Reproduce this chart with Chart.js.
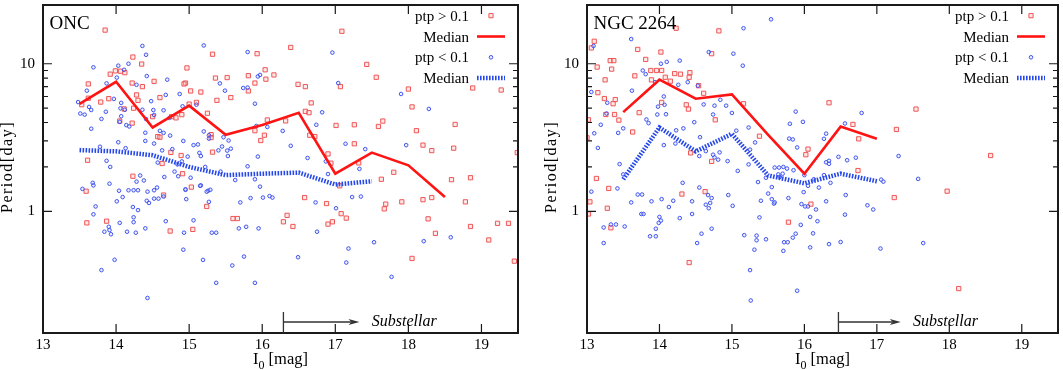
<!DOCTYPE html>
<html><head><meta charset="utf-8">
<script src="https://cdn.jsdelivr.net/npm/chart.js@4/dist/chart.umd.min.js"></script>
<style>
html,body{margin:0;padding:0;background:#fff;}
#wrap{position:relative;width:1063px;height:370px;overflow:hidden;background:#fff;}
canvas{position:absolute;top:0;}
#c1{left:0}
#c2{left:530px}
</style></head><body>
<div id="wrap"><canvas id="c1" width="530" height="370"></canvas><canvas id="c2" width="533" height="370"></canvas></div>
<script>
// ---- axis / tick definitions ----
const xTickValues = [13,14,15,16,17,18,19];
const yTickLabels = [1,10];
const yMinorTicks = [2,3,4,5,6,7,8,9];
const xMin = 13, xMax = 19.5, yMin = 0.15, yMax = 25;
const legendLabels = ['ptp > 0.1','Median','ptp < 0.1','Median'];
const xTitle = ['I','0',' [mag]'];
const yTitle = 'Period[day]';
const substellarText = 'Substellar';

// ---- ONC : ptp > 0.1 ----
const oncRedMag = [
13.85,14.23,15.32,15.93,14.35,14.06,14.12,13.99,13.92,14.97,
14.52,14.22,14.36,13.62,14.95,14.93,15.36,15.52,15.81,16.04,
16.05,15.9,15.81,15.16,15.02,13.62,13.79,13.9,14.28,14.3,
14.6,15.38,15.57,13.53,14.11,14.24,15.0,15.1,15.25,14.05,
14.22,14.5,14.76,14.82,14.9,14.57,14.6,15.3,15.3,15.9,
15.98,16.03,13.61,14.63,14.75,14.89,15.32,14.91,14.23,15.03,
13.59,
13.6,13.87,14.74,14.65,15.24,15.05,15.6,15.66,
17.09,16.39,17.43,17.56,17.07,16.16,16.49,16.59,18.0,18.88,
19.27,16.67,18.05,16.59,16.64,17.01,17.26,17.59,17.65,16.07,
16.32,18.11,18.64,18.2,18.32,18.62,19.49,16.65,16.72,17.26,
16.9,16.94,17.32,17.8,17.63,18.59,18.85,17.06,
16.58,16.88,16.34,16.29,16.42,17.08,17.15,16.9,16.96,17.69,
17.67,17.91,18.2,18.32,18.27,18.37,18.05,18.78,18.85,19.22,
19.37,19.1,19.45];
const oncRedPer = [
16.9,11.1,11.6,11.7,9.95,8.9,8.7,8.95,8.5,9.37,
7.6,7.4,7.0,7.3,7.4,7.3,8.0,8.06,8.3,9.1,
7.86,7.4,6.54,6.43,6.54,5.84,5.5,5.8,6.15,5.65,
5.9,5.65,5.9,5.28,4.94,5.0,5.33,5.47,4.62,4.09,
3.96,4.38,4.38,4.3,4.52,3.21,3.18,3.31,3.16,3.52,
3.02,3.28,2.22,2.11,2.51,2.39,2.52,1.8,1.73,1.46,
1.37,
0.836,0.858,0.736,1.29,1.08,0.755,0.894,0.894,
16.6,12.9,9.9,8.1,7.0,8.4,7.25,7.0,6.74,6.85,
6.64,5.43,5.1,4.76,4.66,3.82,3.86,3.76,4.09,4.16,
4.1,3.52,3.88,2.81,2.58,2.68,2.5,3.28,3.21,2.87,
2.45,2.12,2.13,1.84,1.65,1.64,1.69,1.49,
1.24,1.13,0.94,0.85,0.79,0.965,0.90,0.82,0.85,1.12,
1.04,1.16,1.2,1.24,0.89,0.71,0.48,1.16,0.79,0.83,
0.83,0.64,0.46];

// ---- ONC : ptp < 0.1 ----
const oncBlueMag = [
14.36,15.2,14.41,15.8,13.69,14.03,14.17,14.11,14.01,14.42,
14.7,14.28,13.87,15.42,15.94,15.97,15.8,15.74,15.49,14.87,
13.6,13.63,13.66,13.97,14.68,14.48,13.48,13.51,13.57,14.07,
14.06,14.12,14.36,14.65,14.51,14.91,15.1,15.9,13.86,13.8,
13.66,14.05,14.14,14.18,14.07,14.52,14.41,14.73,14.4,14.6,
14.65,14.4,14.74,15.2,15.27,15.27,15.47,15.54,15.92,16.07,
14.03,14.13,13.78,13.87,13.92,14.52,14.63,14.57,14.77,14.84,
14.9,14.92,14.98,15.06,15.14,15.16,15.12,15.4,15.45,15.52,
15.53,15.57,15.94,15.22,15.8,15.9,14.8,14.66,14.85,14.33,
14.28,14.38,13.68,13.69,13.91,14.04,14.17,14.24,14.3,13.54,
15.02,15.16,14.95,15.26,15.43,15.97,15.63,
13.72,13.69,14.01,14.09,14.23,14.3,14.24,14.24,14.05,13.84,
13.9,13.91,13.93,14.15,14.27,14.4,14.42,14.45,14.43,14.52,
14.56,14.52,14.58,14.65,14.68,14.95,14.96,15.15,15.24,15.29,
15.27,15.06,14.93,15.31,15.37,14.92,13.98,13.8,14.43,15.19,
15.37,15.59,15.75,15.9,15.68,15.78,15.95,15.7,15.84,16.01,
16.1,
16.96,17.04,17.9,18.28,16.82,16.74,16.28,16.39,17.14,17.41,
17.97,16.62,16.87,16.9,17.33,
16.14,16.73,17.01,17.23,17.35,16.75,16.49,17.18,17.15,17.53,
18.21,18.58,17.77];
const oncBluePer = [
13.2,13.3,11.5,12.0,9.46,9.7,10,9.1,8.06,8.25,
7.8,7.2,7.36,7.36,8.2,8.4,6.9,6.85,6.57,6.24,
6.57,5.1,4.86,5.78,6.15,5.58,5.5,4.6,4.52,5.43,
4.99,4.88,4.88,4.84,4.86,5.15,5.28,5.36,4.73,4.23,
3.63,4.04,3.84,3.76,4.41,4.5,4.22,4.3,3.41,3.51,
3.4,3.0,3.26,3.48,3.28,3.11,3.18,3.02,3.79,3.73,
2.94,2.68,2.74,2.2,2.0,2.88,2.59,2.14,2.64,2.08,
2.18,3.0,2.35,2.81,2.49,2.37,2.84,2.59,2.75,2.58,
2.37,2.66,2.35,2.0,2.02,1.65,1.86,1.71,1.73,1.75,
1.59,1.62,1.56,1.5,1.54,1.38,1.39,1.39,1.39,1.42,
1.69,1.5,1.4,1.38,1.86,1.47,1.63,
1.08,0.955,1.17,1.25,1.07,1.02,0.912,0.845,0.836,0.728,
0.786,0.747,0.70,0.728,0.717,0.767,1.18,1.14,1.36,1.39,
1.45,1.22,1.22,1.26,0.858,1.41,1.21,1.49,1.36,1.40,
1.16,0.87,0.717,0.717,0.717,0.55,0.47,0.40,0.259,0.469,
0.328,0.43,0.494,0.328,0.767,0.786,0.767,1.15,1.23,1.24,
1.27,
11.9,7.4,6.24,4.94,4.69,3.86,3.51,2.78,2.87,2.64,
2.81,2.3,2.18,1.79,1.94,
1.24,1.15,1.05,1.25,1.26,0.728,0.489,0.56,0.45,0.618,
0.628,0.667,0.36];

// ---- ONC medians ----
const oncMedRedMag = [13.5,14,14.5,15,15.5,16,16.5,17,17.5,18,18.5];
const oncMedRedPer = [5.35,7.55,3.7,5.2,3.3,3.85,4.65,1.8,2.5,2.05,1.25];
const oncMedBlueMag = [13.5,14,14.5,15,15.5,16,16.5,17,17.5];
const oncMedBluePer = [2.6,2.55,2.4,2.0,1.76,1.8,1.83,1.52,1.6];

// ---- NGC 2264 : ptp > 0.1 ----
const ngcRedMag = [
14.23,14.82,13.1,13.06,13.7,14.02,14.72,13.81,13.32,13.37,
13.14,13.34,13.88,13.96,14.03,14.21,14.29,14.42,14.41,13.66,
13.25,13.89,14.08,14.15,14.54,13.15,14.61,13.24,13.39,13.36,
14.03,14.37,15.16,14.4,13.72,13.26,13.38,13.02,13.44,14.77,
13.63,15.38,13.0,14.43,14.72,13.13,
13.3,13.04,13.02,13.28,13.33,14.31,14.63,14.41,15.78,
16.34,17.54,16.67,16.75,17.27,16.05,16.02,18.57,16.74,
17.24,17.97,16.09,18.13];
const ngcRedPer = [
17.4,16.7,14.2,12.8,12.5,12.0,11.7,10.7,10.5,10.5,
9.5,9.2,9.0,9.0,9.0,8.58,8.5,8.7,8.1,8.28,
7.78,7.78,8.1,7.62,7.1,6.37,6.31,5.81,5.72,5.36,
5.47,5.27,5.36,4.93,4.66,4.53,4.53,4.17,4.15,4.17,
3.45,3.23,3.15,2.49,2.18,1.67,
1.43,1.16,0.96,1.05,0.774,1.31,1.36,0.45,0.845,
5.44,4.93,3.88,3.1,3.59,2.64,2.42,2.39,1.89,
1.24,1.37,1.12,0.30];

// ---- NGC 2264 : ptp < 0.1 ----
const ngcBlueMag = [
15.54,15.16,13.61,13.09,14.68,15.02,15.15,14.02,14.1,14.28,
13.77,13.81,13.94,14.26,14.39,14.53,13.06,13.62,14.06,13.98,
13.97,14.09,14.07,13.1,13.19,13.15,13.27,13.28,13.43,13.5,
13.45,13.5,13.82,13.85,14.06,14.23,14.33,14.22,14.48,14.56,
14.55,14.64,14.61,14.74,14.76,14.84,14.92,15.0,14.74,14.76,
14.83,14.81,14.94,15.08,15.23,15.23,15.06,15.25,15.32,15.36,
15.47,15.59,15.65,15.71,15.76,15.64,15.7,15.66,15.88,15.79,
15.84,15.9,14.32,
13.06,13.42,13.23,13.23,13.33,13.4,13.52,13.61,13.7,13.76,
13.75,13.78,13.89,13.95,13.87,13.95,13.99,14.0,14.02,14.03,
14.13,14.19,14.28,14.45,14.45,14.52,14.58,14.55,14.64,14.7,
14.67,14.72,14.68,14.72,14.95,15.01,15.17,15.25,15.26,15.31,
15.34,15.34,15.38,15.4,15.47,15.5,15.55,15.58,15.59,15.55,
15.71,15.72,15.77,15.78,15.84,15.88,15.9,
15.98,15.8,16.3,16.27,16.79,16.56,16.47,16.59,16.71,17.3,
16.3,16.34,16.34,16.27,16.0,15.85,17.57,17.06,17.09,16.13,
16.05,16.2,16.36,15.99,15.96,16.01,16.05,16.16,16.3,16.57,
16.56,16.87,16.95,16.08,16.18,15.95,16.12,16.08,16.34,16.5,
17.05,17.64];
const ngcBluePer = [
20.0,17.4,14.7,13.2,12.0,11.7,9.7,10.0,10.3,10.5,
9.0,8.5,7.5,7.2,7.5,7.1,6.44,6.57,6.0,5.12,
4.53,4.55,5.27,3.38,3.86,2.69,4.6,5.44,3.4,3.65,
2.09,1.78,4.19,3.96,2.81,3.54,3.65,2.88,4.02,3.18,
2.37,2.56,5.3,4.53,5.2,5.7,5.2,4.64,2.42,2.32,
2.51,2.24,2.19,1.88,2.08,3.70,3.52,2.62,2.93,1.58,
1.69,1.98,1.98,2.0,1.95,1.78,1.8,1.71,4.74,3.11,
3.07,2.71,1.56,
1.36,1.43,0.778,0.61,0.815,0.815,0.79,1.15,1.3,1.3,
0.96,0.96,1.17,0.763,0.678,0.678,0.836,0.917,0.866,1.21,
1.07,1.18,0.90,1.17,0.96,0.61,0.706,1.45,1.11,1.14,
1.29,1.23,1.05,0.763,1.29,1.09,0.69,0.40,0.249,0.55,
0.685,0.637,0.91,1.18,0.647,1.32,1.21,1.13,1.15,1.46,
0.54,0.618,0.618,1.23,0.664,0.706,0.29,
4.04,3.92,3.36,3.1,4.64,3.94,2.34,2.22,2.31,2.37,
2.15,2.2,2.1,1.76,1.76,1.9,1.66,1.64,1.59,1.65,
1.49,1.45,1.56,1.35,1.12,1.08,1.08,1.03,1.17,1.29,
0.95,1.1,1.03,0.917,0.858,0.81,0.71,0.57,0.6,0.62,
0.56,0.61];

// ---- NGC 2264 medians ----
const ngcMedRedMag = [13.5,14,14.5,15,15.5,16,16.5,17];
const ngcMedRedPer = [4.7,7.8,5.8,6.2,3.3,1.8,3.75,3.1];
const ngcMedBlueMag = [13.5,14,14.5,15,15.5,16,16.5,17];
const ngcMedBluePer = [1.65,3.7,2.55,3.35,1.75,1.55,1.8,1.6];

// ---- styles ----
const FONT = '"Liberation Serif", "Times New Roman", serif';
const RED_PT = 'rgba(238,78,78,0.95)';
const RED_PT_FILL = 'rgba(255,190,190,0.35)';
const BLUE_PT = 'rgba(58,78,238,0.95)';
const BLUE_PT_FILL = 'rgba(200,210,255,0.3)';
const RED_LINE = '#ff1414';
const BLUE_LINE = '#2648e8';
const BLUE_DASH = [1.6,1.4];
const INK = '#1a1a1a';

function pts(xs, ys){ return xs.map((x,i)=>({x:x, y:ys[i]})); }

function makeChart(id, p){
  const deco = {
    id: 'deco_'+id,
    afterDraw(chart){
      const ctx = chart.ctx, a = chart.chartArea, x = chart.scales.x, y = chart.scales.y;
      ctx.save();
      // ticks (inward, all four sides)
      ctx.strokeStyle = INK; ctx.lineWidth = 1.2;
      ctx.beginPath();
      xTickValues.forEach(v=>{
        const px = x.getPixelForValue(v);
        ctx.moveTo(px, a.bottom); ctx.lineTo(px, a.bottom-9);
        ctx.moveTo(px, a.top); ctx.lineTo(px, a.top+9);
      });
      yTickLabels.concat(yMinorTicks).forEach(v=>{
        const py = y.getPixelForValue(v);
        const L = yTickLabels.includes(v) ? 9 : 5;
        ctx.moveTo(a.left, py); ctx.lineTo(a.left+L, py);
        ctx.moveTo(a.right, py); ctx.lineTo(a.right-L, py);
      });
      ctx.stroke();
      // frame
      ctx.lineWidth = 2; ctx.strokeStyle = INK;
      ctx.strokeRect(a.left, a.top, a.right-a.left, a.bottom-a.top);
      // panel name
      ctx.fillStyle = '#000';
      ctx.font = '19px ' + FONT;
      ctx.textAlign = 'left'; ctx.textBaseline = 'alphabetic';
      ctx.fillText(p.name, a.left+6.5, 28.5);
      // legend
      ctx.font = '15px ' + FONT;
      ctx.textAlign = 'right';
      for (let i=0;i<4;i++){
        const base = 20.7 + i*20.8;
        const sy = base - 5;
        ctx.fillStyle = '#000';
        ctx.fillText(legendLabels[i], a.right-49, base);
        if (i===0){
          ctx.lineWidth = 1; ctx.strokeStyle = RED_PT; ctx.fillStyle = RED_PT_FILL;
          ctx.beginPath(); ctx.rect(a.right-27-2.1, sy-2.1, 4.2, 4.2); ctx.fill(); ctx.stroke();
        } else if (i===1){
          ctx.lineWidth = 2.6; ctx.strokeStyle = RED_LINE; ctx.setLineDash([]);
          ctx.beginPath(); ctx.moveTo(a.right-41, sy); ctx.lineTo(a.right-13, sy); ctx.stroke();
        } else if (i===2){
          ctx.lineWidth = 1; ctx.strokeStyle = BLUE_PT; ctx.fillStyle = BLUE_PT_FILL;
          ctx.beginPath(); ctx.arc(a.right-27, sy, 1.8, 0, Math.PI*2); ctx.fill(); ctx.stroke();
        } else {
          ctx.lineWidth = 4.5; ctx.strokeStyle = BLUE_LINE; ctx.setLineDash(BLUE_DASH);
          ctx.beginPath(); ctx.moveTo(a.right-41, sy); ctx.lineTo(a.right-13, sy); ctx.stroke();
          ctx.setLineDash([]);
        }
      }
      // substellar annotation
      const bx = x.getPixelForValue(p.subStart);
      const ax = x.getPixelForValue(p.subArrowEnd);
      const ay = a.bottom - 11;
      ctx.strokeStyle = '#333'; ctx.fillStyle = '#333'; ctx.lineWidth = 1.3;
      ctx.beginPath(); ctx.moveTo(bx, a.bottom); ctx.lineTo(bx, a.bottom-21);
      ctx.moveTo(bx, ay); ctx.lineTo(ax-8, ay); ctx.stroke();
      ctx.beginPath(); ctx.moveTo(ax, ay); ctx.lineTo(ax-11, ay-3); ctx.lineTo(ax-8, ay); ctx.lineTo(ax-11, ay+3); ctx.closePath(); ctx.fill();
      ctx.fillStyle = '#000';
      ctx.font = 'italic 16px ' + FONT; ctx.textAlign = 'left';
      ctx.fillText(substellarText, x.getPixelForValue(p.subTextStart), a.bottom-7);
      // x title with subscript
      ctx.font = '16.5px ' + FONT;
      const w1 = ctx.measureText(xTitle[0]).width;
      const w3 = ctx.measureText(xTitle[2]).width;
      ctx.font = '12px ' + FONT;
      const w2 = ctx.measureText(xTitle[1]).width;
      let tx = (a.left + a.right)/2 - (w1+w2+w3)/2;
      ctx.textAlign = 'left';
      ctx.font = '16.5px ' + FONT; ctx.fillText(xTitle[0], tx, 363.5); tx += w1;
      ctx.font = '12px ' + FONT; ctx.fillText(xTitle[1], tx, 368.5); tx += w2;
      ctx.font = '16.5px ' + FONT; ctx.fillText(xTitle[2], tx, 363.5);
      // y title
      ctx.save();
      ctx.translate(a.left - 31.5, (a.top + a.bottom)/2 - 2);
      ctx.rotate(-Math.PI/2);
      ctx.font = '16px ' + FONT; ctx.textAlign = 'center';
      try { ctx.letterSpacing = '1.5px'; } catch(e) {}
      ctx.fillText(yTitle, 0, 0);
      ctx.restore();
      ctx.restore();
    }
  };
  return new Chart(document.getElementById(id), {
    type: 'scatter',
    data: { datasets: [
      { label: legendLabels[1], data: pts(p.medRedX, p.medRedY), showLine: true, borderColor: RED_LINE, backgroundColor: RED_LINE, borderWidth: 2.6, pointRadius: 0, tension: 0, fill: false, order: 0 },
      { label: legendLabels[3], data: pts(p.medBlueX, p.medBlueY), showLine: true, borderColor: BLUE_LINE, backgroundColor: BLUE_LINE, borderWidth: 4.5, borderDash: BLUE_DASH, borderCapStyle: 'butt', pointRadius: 0, tension: 0, fill: false, order: 1 },
      { label: legendLabels[2], data: pts(p.blueX, p.blueY), pointStyle: 'circle', pointRadius: 1.8, borderWidth: 1, borderColor: BLUE_PT, backgroundColor: BLUE_PT_FILL, order: 2 },
      { label: legendLabels[0], data: pts(p.redX, p.redY), pointStyle: 'rect', pointRadius: 3, borderWidth: 1, borderColor: RED_PT, backgroundColor: RED_PT_FILL, order: 3 }
    ]},
    options: {
      responsive: false, animation: false, devicePixelRatio: 1,
      layout: { padding: { left: p.padL, right: p.padR, top: 1, bottom: 0 } },
      plugins: { legend: { display: false }, tooltip: { enabled: false } },
      scales: {
        x: {
          type: 'linear', min: xMin, max: xMax,
          afterBuildTicks: s => { s.ticks = xTickValues.map(v => ({value: v})); },
          afterFit: s => { s.height = 37; s.paddingLeft = 0; s.paddingRight = 0; },
          grid: { display: false, drawTicks: false }, border: { display: false },
          ticks: { padding: 3, color: '#000', autoSkip: false, maxRotation: 0, font: { family: FONT, size: 15 } }
        },
        y: {
          type: 'logarithmic', min: yMin, max: yMax,
          afterBuildTicks: s => { s.ticks = yTickLabels.map(v => ({value: v})); },
          afterFit: s => { s.width = p.yW; s.paddingTop = 0; s.paddingBottom = 0; },
          grid: { display: false, drawTicks: false }, border: { display: false },
          ticks: { padding: 8, color: '#000', autoSkip: false, font: { family: FONT, size: 15 }, callback: v => String(v) }
        }
      }
    },
    plugins: [deco]
  });
}

makeChart('c1', {
  name: 'ONC', padL: 0, padR: 12, yW: 43,
  redX: oncRedMag, redY: oncRedPer, blueX: oncBlueMag, blueY: oncBluePer,
  medRedX: oncMedRedMag, medRedY: oncMedRedPer, medBlueX: oncMedBlueMag, medBlueY: oncMedBluePer,
  subStart: 16.29, subArrowEnd: 17.33, subTextStart: 17.5
});
makeChart('c2', {
  name: 'NGC 2264', padL: 13, padR: 2, yW: 44,
  redX: ngcRedMag, redY: ngcRedPer, blueX: ngcBlueMag, blueY: ngcBluePer,
  medRedX: ngcMedRedMag, medRedY: ngcMedRedPer, medBlueX: ngcMedBlueMag, medBlueY: ngcMedBluePer,
  subStart: 16.47, subArrowEnd: 17.33, subTextStart: 17.5
});
</script>
</body></html>
